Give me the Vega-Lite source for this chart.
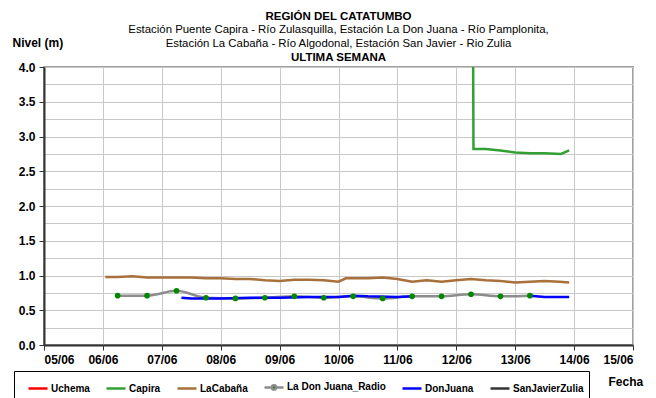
{
  "$schema": "https://vega.github.io/schema/vega-lite/v6.json",
  "autosize": {"type": "none"},
  "width": 589,
  "height": 278,
  "padding": {"left": 44, "top": 67, "right": 23, "bottom": 53},
  "background": "white",
  "config": {
    "font": "Liberation Sans",
    "view": {"stroke": "#A0A0A0", "strokeWidth": 2},
    "axis": {"labelFont": "Liberation Sans", "titleFont": "Liberation Sans"}
  },
  "title": {
    "text": "REGIÓN DEL CATATUMBO",
    "subtitle": ["Estación Puente Capira - Río Zulasquilla, Estación La Don Juana - Río Pamplonita,", "Estación La Cabaña - Río Algodonal, Estación San Javier - Rio Zulia"],
    "anchor": "middle",
    "frame": "group",
    "font": "Liberation Sans",
    "fontSize": 11.5,
    "fontWeight": "bold",
    "color": "#000000",
    "subtitleFont": "Liberation Sans",
    "subtitleFontSize": 11.4,
    "subtitleColor": "#000000",
    "subtitleLineHeight": 14,
    "subtitlePadding": 1,
    "offset": -13
  },
  "data": {
    "values": [
      {"t": "2024-06-06T01:00", "v": 0.98, "s": "LaCabaña"},
      {"t": "2024-06-06T06:00", "v": 0.98, "s": "LaCabaña"},
      {"t": "2024-06-06T12:00", "v": 0.99, "s": "LaCabaña"},
      {"t": "2024-06-06T18:00", "v": 0.97, "s": "LaCabaña"},
      {"t": "2024-06-07T00:00", "v": 0.97, "s": "LaCabaña"},
      {"t": "2024-06-07T06:00", "v": 0.97, "s": "LaCabaña"},
      {"t": "2024-06-07T12:00", "v": 0.97, "s": "LaCabaña"},
      {"t": "2024-06-07T18:00", "v": 0.96, "s": "LaCabaña"},
      {"t": "2024-06-08T00:00", "v": 0.96, "s": "LaCabaña"},
      {"t": "2024-06-08T06:00", "v": 0.95, "s": "LaCabaña"},
      {"t": "2024-06-08T12:00", "v": 0.95, "s": "LaCabaña"},
      {"t": "2024-06-08T18:00", "v": 0.93, "s": "LaCabaña"},
      {"t": "2024-06-09T00:00", "v": 0.92, "s": "LaCabaña"},
      {"t": "2024-06-09T06:00", "v": 0.94, "s": "LaCabaña"},
      {"t": "2024-06-09T12:00", "v": 0.94, "s": "LaCabaña"},
      {"t": "2024-06-09T18:00", "v": 0.93, "s": "LaCabaña"},
      {"t": "2024-06-10T00:00", "v": 0.91, "s": "LaCabaña"},
      {"t": "2024-06-10T03:00", "v": 0.96, "s": "LaCabaña"},
      {"t": "2024-06-10T12:00", "v": 0.96, "s": "LaCabaña"},
      {"t": "2024-06-10T18:00", "v": 0.97, "s": "LaCabaña"},
      {"t": "2024-06-11T00:00", "v": 0.95, "s": "LaCabaña"},
      {"t": "2024-06-11T06:00", "v": 0.91, "s": "LaCabaña"},
      {"t": "2024-06-11T12:00", "v": 0.93, "s": "LaCabaña"},
      {"t": "2024-06-11T18:00", "v": 0.91, "s": "LaCabaña"},
      {"t": "2024-06-12T00:00", "v": 0.93, "s": "LaCabaña"},
      {"t": "2024-06-12T06:00", "v": 0.95, "s": "LaCabaña"},
      {"t": "2024-06-12T12:00", "v": 0.93, "s": "LaCabaña"},
      {"t": "2024-06-12T18:00", "v": 0.92, "s": "LaCabaña"},
      {"t": "2024-06-13T00:00", "v": 0.90, "s": "LaCabaña"},
      {"t": "2024-06-13T06:00", "v": 0.91, "s": "LaCabaña"},
      {"t": "2024-06-13T12:00", "v": 0.92, "s": "LaCabaña"},
      {"t": "2024-06-13T18:00", "v": 0.91, "s": "LaCabaña"},
      {"t": "2024-06-13T22:00", "v": 0.90, "s": "LaCabaña"},
      {"t": "2024-06-06T06:00", "v": 0.71, "s": "La Don Juana_Radio"},
      {"t": "2024-06-06T18:00", "v": 0.71, "s": "La Don Juana_Radio"},
      {"t": "2024-06-07T06:00", "v": 0.78, "s": "La Don Juana_Radio"},
      {"t": "2024-06-07T18:00", "v": 0.68, "s": "La Don Juana_Radio"},
      {"t": "2024-06-08T06:00", "v": 0.67, "s": "La Don Juana_Radio"},
      {"t": "2024-06-08T18:00", "v": 0.68, "s": "La Don Juana_Radio"},
      {"t": "2024-06-09T06:00", "v": 0.70, "s": "La Don Juana_Radio"},
      {"t": "2024-06-09T18:00", "v": 0.68, "s": "La Don Juana_Radio"},
      {"t": "2024-06-10T06:00", "v": 0.70, "s": "La Don Juana_Radio"},
      {"t": "2024-06-10T18:00", "v": 0.67, "s": "La Don Juana_Radio"},
      {"t": "2024-06-11T06:00", "v": 0.70, "s": "La Don Juana_Radio"},
      {"t": "2024-06-11T18:00", "v": 0.70, "s": "La Don Juana_Radio"},
      {"t": "2024-06-12T06:00", "v": 0.73, "s": "La Don Juana_Radio"},
      {"t": "2024-06-12T18:00", "v": 0.70, "s": "La Don Juana_Radio"},
      {"t": "2024-06-13T06:00", "v": 0.71, "s": "La Don Juana_Radio"},
      {"t": "2024-06-07T08:00", "v": 0.68, "s": "DonJuana"},
      {"t": "2024-06-07T12:00", "v": 0.67, "s": "DonJuana"},
      {"t": "2024-06-08T00:00", "v": 0.67, "s": "DonJuana"},
      {"t": "2024-06-08T12:00", "v": 0.68, "s": "DonJuana"},
      {"t": "2024-06-09T00:00", "v": 0.68, "s": "DonJuana"},
      {"t": "2024-06-09T12:00", "v": 0.69, "s": "DonJuana"},
      {"t": "2024-06-10T00:00", "v": 0.69, "s": "DonJuana"},
      {"t": "2024-06-10T06:00", "v": 0.71, "s": "DonJuana"},
      {"t": "2024-06-10T12:00", "v": 0.70, "s": "DonJuana"},
      {"t": "2024-06-11T00:00", "v": 0.69, "s": "DonJuana"},
      {"t": "2024-06-11T07:00", "v": 0.70, "s": "DonJuana"},
      {"t": "2024-06-12T00:00", "v": null, "s": "DonJuana"},
      {"t": "2024-06-13T06:00", "v": 0.71, "s": "DonJuana"},
      {"t": "2024-06-13T12:00", "v": 0.69, "s": "DonJuana"},
      {"t": "2024-06-13T18:00", "v": 0.69, "s": "DonJuana"},
      {"t": "2024-06-13T22:00", "v": 0.69, "s": "DonJuana"},
      {"t": "2024-06-12T06:40", "v": 6.0, "s": "Capira"},
      {"t": "2024-06-12T07:00", "v": 2.82, "s": "Capira"},
      {"t": "2024-06-12T12:00", "v": 2.82, "s": "Capira"},
      {"t": "2024-06-12T18:00", "v": 2.80, "s": "Capira"},
      {"t": "2024-06-13T00:00", "v": 2.77, "s": "Capira"},
      {"t": "2024-06-13T06:00", "v": 2.76, "s": "Capira"},
      {"t": "2024-06-13T12:00", "v": 2.76, "s": "Capira"},
      {"t": "2024-06-13T18:40", "v": 2.75, "s": "Capira"},
      {"t": "2024-06-13T22:00", "v": 2.80, "s": "Capira"}
    ]
  },
  "resolve": {"axis": {"x": "independent", "y": "independent"}},
  "layer": [
    {
      "transform": [{"filter": "datum.s == 'La Don Juana_Radio'"}],
      "mark": {"type": "line", "interpolate": "monotone", "strokeWidth": 2.5, "clip": true},
      "encoding": {
        "x": {
          "field": "t", "type": "temporal",
          "scale": {"domain": [{"year": 2024, "month": 6, "date": 5}, {"year": 2024, "month": 6, "date": 15}]},
          "axis": {
            "orient": "bottom",
            "format": "%d/%m",
            "tickCount": {"interval": "day", "step": 1},
            "labelFontSize": 12, "labelFontWeight": "bold", "labelColor": "#000000",
            "labelPadding": 4, "labelBaseline": "top", "labelOverlap": false,
            "ticks": true, "tickSize": 5, "tickColor": "#333333",
            "domainColor": "#333333", "domainWidth": 2,
            "grid": true, "gridColor": "#C8C8C8", "gridWidth": 1,
            "title": "Fecha", "titleFontSize": 12, "titleFontWeight": "bold", "titleColor": "#000000",
            "titleAlign": "left", "titleBaseline": "middle", "titleX": 564, "titleY": 36
          }
        },
        "y": {
          "field": "v", "type": "quantitative",
          "scale": {"domain": [0, 4], "nice": false},
          "axis": {
            "orient": "left",
            "values": [0, 0.5, 1, 1.5, 2, 2.5, 3, 3.5, 4],
            "format": ".1f",
            "labelOverlap": false,
            "labelFontSize": 12, "labelFontWeight": "bold", "labelColor": "#000000", "labelPadding": 4,
            "tickSize": 5, "tickColor": "#333333",
            "domainColor": "#333333", "domainWidth": 2,
            "grid": true, "gridColor": "#C8C8C8", "gridWidth": 1,
            "title": "Nivel (m)", "titleFontSize": 12, "titleFontWeight": "bold", "titleColor": "#000000",
            "titleAngle": 0, "titleAlign": "left", "titleBaseline": "middle", "titleX": -32, "titleY": -25
          }
        },
        "color": {
          "field": "s", "type": "nominal",
          "scale": {
            "domain": ["Uchema", "Capira", "LaCabaña", "La Don Juana_Radio", "DonJuana", "SanJavierZulia"],
            "range": ["#FF0000", "#33A033", "#A8703A", "#8C8C8C", "#0000FF", "#333333"]
          },
          "legend": {
            "orient": "none", "legendX": -30, "legendY": 304, "direction": "horizontal",
            "title": null, "symbolType": "stroke", "symbolSize": 361, "symbolStrokeWidth": 2.5,
            "labelFontSize": 10, "labelFontWeight": "bold", "labelFont": "Liberation Sans", "labelColor": "#000000",
            "labelOffset": 2, "columnPadding": 7, "padding": 5, "strokeColor": "#000000",
            "symbolOffset": 8,
            "encode": {
              "symbols": {
                "update": {
                  "shape": {"signal": "datum.value == 'La Don Juana_Radio' ? 'M-1,0L-0.22,0M0.22,0L1,0M-0.22,0a0.22,0.22 0 1,0 0.44,0a0.22,0.22 0 1,0 -0.44,0' : 'stroke'"},
                  "fill": {"signal": "datum.value == 'La Don Juana_Radio' ? '#008800' : 'transparent'"}
                }
              }
            }
          }
        }
      }
    },
    {
      "transform": [{"filter": "datum.s != 'La Don Juana_Radio'"}],
      "mark": {"type": "line", "strokeWidth": 2.5, "clip": true, "invalid": "break-paths-filter-domains"},
      "encoding": {
        "x": {"field": "t", "type": "temporal", "axis": null},
        "y": {"field": "v", "type": "quantitative", "axis": null},
        "color": {"field": "s", "type": "nominal"}
      }
    },
    {
      "transform": [{"filter": "datum.s == 'La Don Juana_Radio'"}],
      "mark": {"type": "point", "filled": true, "color": "#008800", "size": 32, "opacity": 1},
      "encoding": {
        "x": {
          "field": "t", "type": "temporal",
          "axis": {
            "orient": "top", "labels": false, "ticks": false, "domain": false, "grid": false,
            "title": "ULTIMA SEMANA", "titleFontSize": 11.5, "titleFontWeight": "bold", "titleColor": "#000000",
            "titleAlign": "center", "titleBaseline": "middle", "titleX": 294, "titleY": -10
          }
        },
        "y": {
          "field": "v", "type": "quantitative",
          "axis": {
            "orient": "left",
            "values": [0.25, 0.75, 1.25, 1.75, 2.25, 2.75, 3.25, 3.75],
            "labels": false, "ticks": false, "domain": false, "title": null,
            "grid": true, "gridColor": "#C8C8C8", "gridWidth": 1
          }
        }
      }
    }
  ]
}
